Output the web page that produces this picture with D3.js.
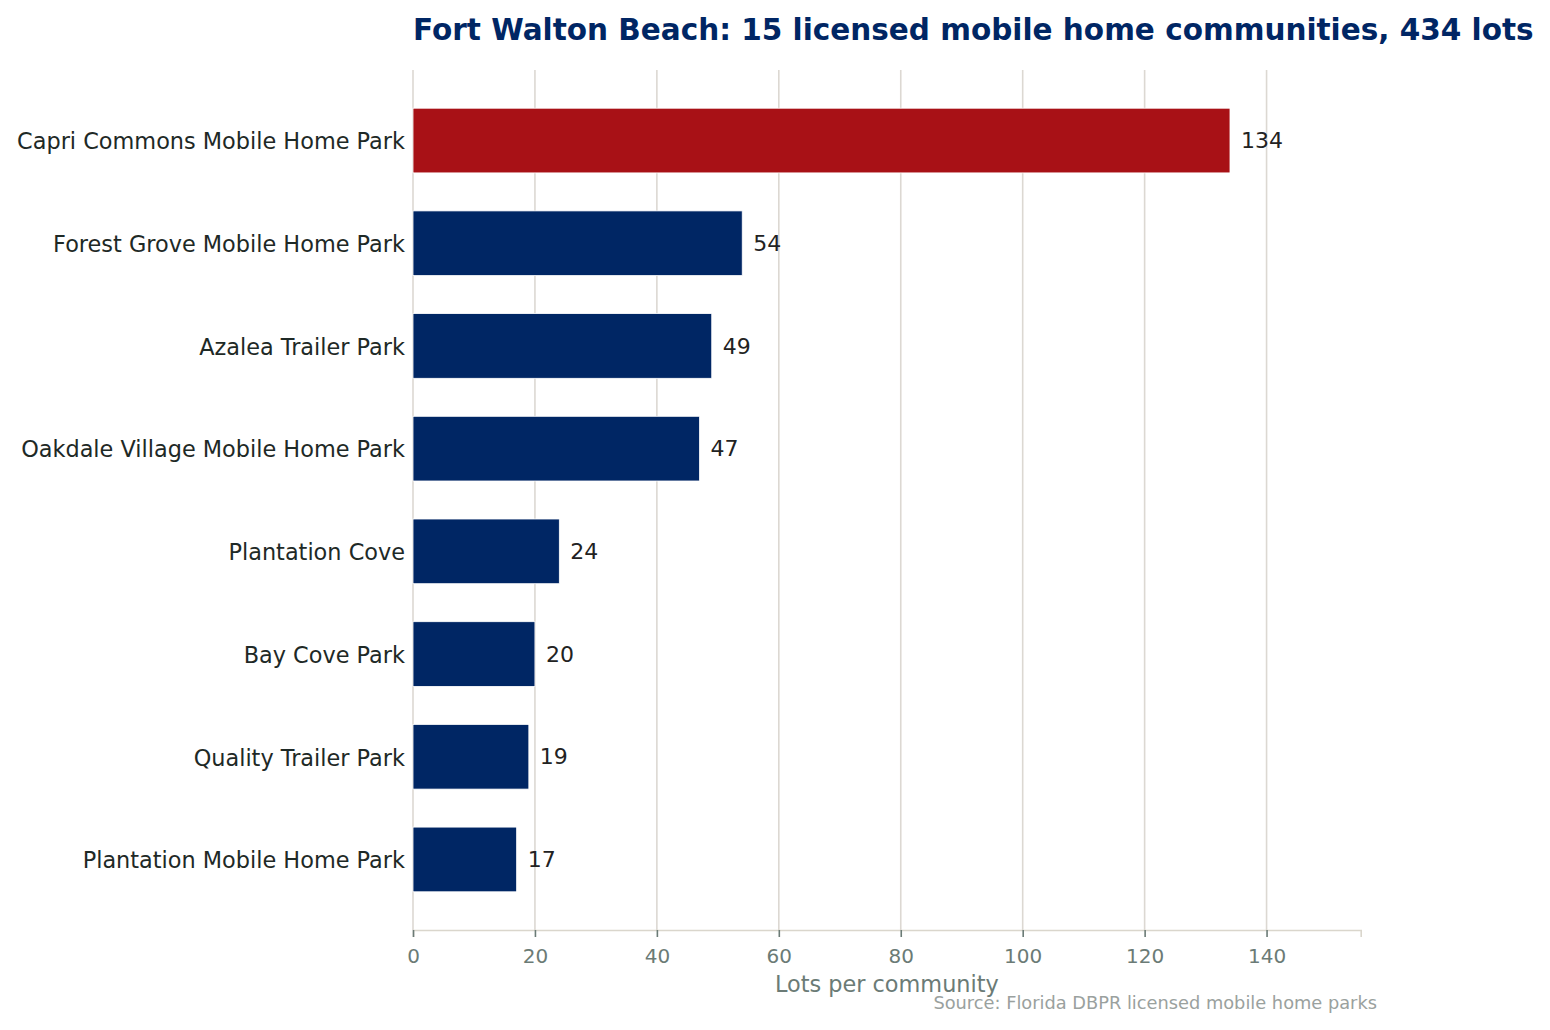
<!DOCTYPE html>
<html>
<head>
<meta charset="utf-8">
<script src="https://cdn.jsdelivr.net/npm/d3@7"></script>
<style>
  body { margin: 0; background: #fff; }
  text { font-family: "DejaVu Sans", sans-serif; }
</style>
</head>
<body>
<div id="chart"></div>
<script>
const parks = [
  "Capri Commons Mobile Home Park",
  "Forest Grove Mobile Home Park",
  "Azalea Trailer Park",
  "Oakdale Village Mobile Home Park",
  "Plantation Cove",
  "Bay Cove Park",
  "Quality Trailer Park",
  "Plantation Mobile Home Park"
];
const lots = [134, 54, 49, 47, 24, 20, 19, 17];
const xTicks = [0, 20, 40, 60, 80, 100, 120, 140];

const width = 1550, height = 1030;
const plot = {left: 413, right: 1360.7, top: 70, bottom: 930};

const svg = d3.select("#chart").append("svg")
    .attr("width", width)
    .attr("height", height);

const x = d3.scaleLinear()
    .domain([0, d3.max(lots) * 1.16])
    .range([plot.left, plot.right]);

const y = d3.scaleBand()
    .domain(parks)
    .range([plot.top, plot.bottom])
    .paddingInner(0.37)
    .paddingOuter(0.372);

// grid
svg.append("g").selectAll("line").data(xTicks)
    .join("line")
    .attr("x1", d => x(d)).attr("x2", d => x(d))
    .attr("y1", plot.top).attr("y2", plot.bottom)
    .attr("stroke", "#dcd8d2")
    .attr("stroke-width", 1.6);

// bars
svg.append("g").selectAll("rect").data(parks)
    .join("rect")
    .attr("x", x(0))
    .attr("y", d => y(d))
    .attr("width", (d, i) => x(lots[i]) - x(0))
    .attr("height", y.bandwidth())
    .attr("fill", (d, i) => i === 0 ? "#a81116" : "#002664")
    .attr("stroke", "#fff")
    .attr("stroke-width", 0.8);

// value labels
svg.append("g").selectAll("text").data(parks)
    .join("text")
    .attr("x", (d, i) => x(lots[i]) + 11)
    .attr("y", d => y(d) + y.bandwidth() / 2)
    .attr("dy", "0.35em")
    .attr("font-size", 22)
    .attr("fill", "#222")
    .text((d, i) => lots[i]);

// category labels
svg.append("g").selectAll("text").data(parks)
    .join("text")
    .attr("x", plot.left - 8)
    .attr("y", d => y(d) + y.bandwidth() / 2 + 1)
    .attr("dy", "0.35em")
    .attr("text-anchor", "end")
    .attr("font-size", 22.4)
    .attr("fill", "#1e2926")
    .text(d => d);

// x axis
const xAxis = svg.append("g")
    .attr("transform", `translate(0,${plot.bottom})`)
    .call(d3.axisBottom(x).tickValues(xTicks).tickSize(7).tickPadding(11.5));
xAxis.select(".domain").attr("stroke", "#dad6cc").attr("stroke-width", 1.6);
xAxis.selectAll(".tick line").attr("stroke", "#6b7b76").attr("stroke-width", 1.6);
xAxis.selectAll(".tick text")
    .attr("font-family", "DejaVu Sans")
    .attr("font-size", 20)
    .attr("fill", "#6b7b76");

svg.append("text")
    .attr("x", (plot.left + plot.right) / 2)
    .attr("y", 992)
    .attr("text-anchor", "middle")
    .attr("font-size", 22.4)
    .attr("fill", "#6b7b76")
    .text("Lots per community");

svg.append("text")
    .attr("x", plot.left)
    .attr("y", 40)
    .attr("font-size", 29.5)
    .attr("font-weight", "bold")
    .attr("fill", "#002664")
    .text("Fort Walton Beach: 15 licensed mobile home communities, 434 lots");

svg.append("text")
    .attr("x", 1377)
    .attr("y", 1009)
    .attr("text-anchor", "end")
    .attr("font-size", 17.8)
    .attr("fill", "#9aa19e")
    .text("Source: Florida DBPR licensed mobile home parks");
</script>
</body>
</html>
